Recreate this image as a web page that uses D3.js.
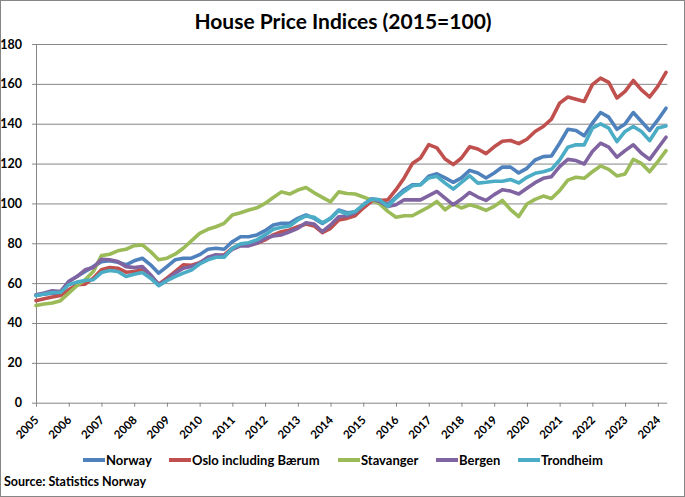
<!DOCTYPE html>
<meta charset="utf-8">
<html>
<head><title>House Price Indices (2015=100)</title>
    <script src="https://d3js.org/d3.v7.min.js"></script>
    <style>
        body { margin: 0; }
        svg text { font-family: Lato, "Open Sans", sans-serif; font-weight: bold; fill: #000; }
        .grid line { stroke: #868686; stroke-width: 1; }
        .grid path { display: none; }
        .axis path, .axis line { stroke: #868686; stroke-width: 1; }
        .series { fill: none; stroke-width: 3.6; stroke-linejoin: round; stroke-linecap: round; }
    </style>
</head>
<body>
<div id="chartDiv"></div>
<script>

    var W = 685, H = 497;

    // quarterly, 2005Q1 .. 2024Q2
    var years = d3.range(2005, 2025);
    var seriesNames = ["Norway", "Oslo including Bærum", "Stavanger", "Bergen", "Trondheim"];
    var seriesColors = ["#4F81BD", "#C0504D", "#9BBB59", "#8064A2", "#4BACC6"];
    var yTicks = [0, 20, 40, 60, 80, 100, 120, 140, 160, 180];

    var norway = [53.8, 54.5, 55, 55, 60.8, 63.3, 65.8, 68.3, 70.8, 71.2,
        70.5, 69.2, 71.2, 72.5, 69.2, 65, 68.3, 71.7, 72.5, 72.5,
        74.3, 77, 77.5, 77, 80.8, 83.3, 83.3, 84.2, 86.3, 89.2,
        90, 90, 92.5, 94.2, 92.5, 90, 92.5, 96.7, 95.3, 95.7,
        98.5, 102.2, 101.8, 99.3, 103.2, 106.9, 109.4, 109.4, 113.6, 114.9,
        112.8, 110.6, 112.8, 116.6, 115.3, 112.8, 115.3, 118.3, 118.2, 115.3,
        117.6, 121.8, 123.5, 123.8, 130.2, 137.2, 136.6, 133.9, 140.3, 145.6,
        143.3, 137.2, 139.9, 145.6, 141.1, 136.6, 141.9, 147.8];
    var oslo = [51.2, 52.2, 53, 53.8, 56.7, 59.2, 59.5, 62.5, 66.7, 67.8,
        67.5, 65.5, 65.8, 66.7, 63.3, 59.5, 62.5, 65.8, 69.2, 69,
        70.3, 72.5, 73.7, 74.2, 77.5, 79.2, 79.7, 80, 81.7, 84.2,
        85.8, 86.7, 88.3, 89.7, 88.7, 85.3, 87.5, 91.7, 92.5, 93.8,
        97.7, 101, 101.5, 101.8, 106.9, 112.8, 120, 122.8, 129.5, 127.9,
        122.3, 119.5, 122.8, 128.4, 127.3, 125, 128.4, 131.2, 131.6, 130,
        132.2, 136.1, 138.6, 142.3, 150.3, 153.4, 152.3, 151.2, 159.6, 162.9,
        160.7, 152.9, 156.2, 161.7, 157, 153.4, 158.7, 165.8];
    var stavanger = [48.8, 49.5, 50, 51.2, 55, 58.7, 61.7, 65.8, 73.8, 74.5,
        76.2, 77, 78.8, 79.2, 75.8, 71.7, 72.5, 74.5, 77.5, 81.2,
        85, 87, 88.3, 90, 94.2, 95.3, 96.7, 97.8, 100, 103,
        105.8, 104.7, 106.7, 108, 105.3, 103, 100.8, 105.8, 105, 104.7,
        103.2, 101.8, 99.8, 96, 93.1, 93.8, 93.8, 96, 98.2, 101,
        96.8, 99.8, 97.7, 99.3, 98.2, 96.5, 98.5, 101.5, 96.9, 93.4,
        99.7, 102, 103.7, 102.5, 106.4, 111.7, 113.1, 112.6, 115.9, 118.8,
        117.1, 113.8, 114.8, 122.1, 120.1, 115.9, 121, 126.5];
    var bergen = [54.2, 55, 56.2, 55.8, 60.8, 63.3, 66.7, 67.8, 72, 71.7,
        70.8, 68.3, 67.8, 68.3, 64.2, 59.2, 61.7, 65, 67.5, 68.3,
        70, 73, 74.2, 73.7, 77, 78.7, 78.7, 80, 82.5, 83.7,
        84.2, 85.8, 87.5, 90.3, 89.7, 85.8, 89.2, 93.3, 93.7, 95.4,
        99.3, 102.2, 101, 98.5, 99.3, 101.8, 101.8, 101.8, 103.9, 106,
        102.7, 99.3, 102.2, 105.5, 103.2, 101.5, 104.4, 106.9, 106.2, 104.7,
        107.6, 110.4, 112.6, 113.4, 118.5, 122.1, 121.5, 119.8, 126, 130.2,
        128.2, 123.2, 126.5, 129.4, 125.2, 122.1, 127.7, 133.2];
    var trondheim = [53.8, 54.5, 55.3, 55.3, 59.2, 60.5, 61.3, 61.7, 65.3, 66.3,
        65.8, 63.3, 64.5, 65.3, 62.5, 58.7, 61.2, 63.3, 65, 66.5,
        69.6, 71.7, 73, 73, 77.5, 79.7, 80.3, 81.7, 84.2, 87,
        88, 88.7, 91.7, 93.7, 93, 90.3, 92.5, 96.3, 94.7, 95.9,
        99.3, 102.2, 101.8, 98.5, 102.7, 106, 108.9, 109.4, 112.8, 113.6,
        110.2, 107.2, 110.6, 113.9, 110.2, 110.6, 111.1, 111.1, 112, 110.3,
        113.1, 115.1, 115.9, 117.1, 121.8, 128.2, 129.4, 129.4, 137.8, 139.9,
        137.8, 131, 136.1, 138.6, 136.1, 131.5, 137.8, 138.9];

    var allSeries = [norway, oslo, stavanger, bergen, trondheim];

    // plot area in px (note: "top" is a reserved window global, so prefix them)
    var plotLeft = 36, plotRight = 666, plotTop = 44, plotBottom = 402.7;

    var x = d3.scaleLinear().domain([0, norway.length - 1]).range([plotLeft, plotRight]);
    var y = d3.scaleLinear().domain([0, 180]).range([plotBottom, plotTop]);

    var svg = d3.select("#chartDiv").append("svg")
            .attr("width", W)
            .attr("height", H);

    // chart frame
    svg.append("rect")
            .attr("x", 0.5).attr("y", 0.5)
            .attr("width", W - 1).attr("height", H - 1)
            .attr("fill", "#fff")
            .attr("stroke", "#868686");

    svg.append("text")
            .attr("x", 343)
            .attr("y", 29)
            .attr("text-anchor", "middle")
            .style("font-size", "21px")
            .text("House Price Indices (2015=100)");

    // horizontal gridlines
    svg.append("g")
            .attr("class", "grid")
            .attr("transform", "translate(" + plotLeft + ",0)")
            .call(d3.axisLeft(y).tickValues(yTicks.slice(1)).tickSize(-(plotRight + 1.3 - plotLeft)).tickFormat(""));

    var yAxis = svg.append("g")
            .attr("class", "axis")
            .attr("transform", "translate(" + plotLeft + ",0)")
            .call(d3.axisLeft(y).tickValues(yTicks).tickSize(4).tickSizeOuter(0).tickPadding(10));
    yAxis.selectAll("text").style("font-size", "12.5px");

    var xAxis = svg.append("g")
            .attr("class", "axis")
            .attr("transform", "translate(0," + plotBottom + ")")
            .call(d3.axisBottom(x)
                    .tickValues(years.map(function(yr) { return (yr - 2005) * 4; }))
                    .tickFormat(function(i) { return 2005 + i / 4; })
                    .tickSize(4).tickSizeOuter(0));
    xAxis.select(".domain").attr("d", "M" + plotLeft + ",0.5H" + (plotRight + 1.3));
    xAxis.selectAll("text")
            .attr("y", 0).attr("dy", 0)
            .attr("transform", "translate(3,18) rotate(-45)")
            .style("text-anchor", "end")
            .style("font-size", "11.5px");

    var line = d3.line()
            .x(function(d, i) { return x(i); })
            .y(function(d) { return y(d); });

    svg.selectAll("path.series")
            .data(allSeries)
            .enter()
            .append("path")
            .attr("class", "series")
            .attr("stroke", function(d, i) { return seriesColors[i]; })
            .attr("d", line);

    // legend
    var legendX = [83, 169, 338, 436, 518];
    var legend = svg.selectAll("g.legend")
            .data(seriesNames)
            .enter()
            .append("g")
            .attr("class", "legend")
            .attr("transform", function(d, i) { return "translate(" + legendX[i] + ",460)"; });
    legend.append("line")
            .attr("x1", 0).attr("x2", 22)
            .attr("stroke", function(d, i) { return seriesColors[i]; })
            .attr("stroke-width", 4);
    legend.append("text")
            .attr("x", 23)
            .attr("dy", "0.35em")
            .style("font-size", "13px")
            .text(function(d) { return d; });

    svg.append("text")
            .attr("x", 4)
            .attr("y", 486)
            .style("font-size", "12.5px")
            .text("Source: Statistics Norway");

</script>
</body>
</html>
